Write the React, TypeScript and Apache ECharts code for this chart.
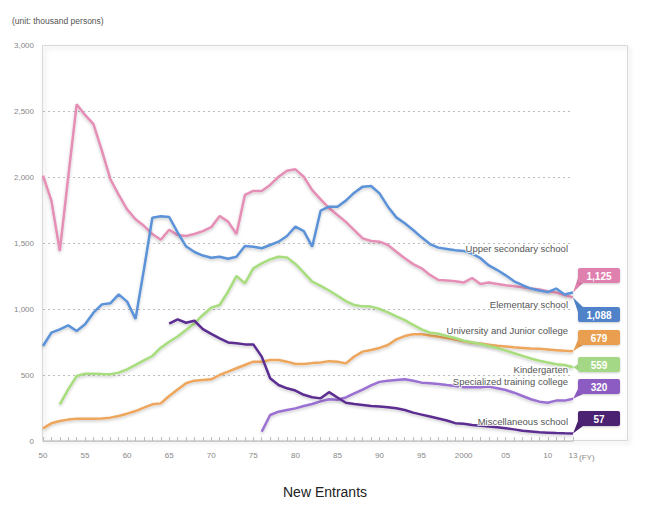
import { useEffect, useRef } from 'react';
import * as echarts from 'echarts';

const years = Array.from({ length: 64 }, (_, i) => String(1950 + i));

// thousand persons, FY1950 - FY2013
const elementary = [
  2010, 1820, 1440, 2000, 2550, 2470, 2400, 2200, 1985, 1865,
  1755, 1680, 1630, 1568, 1525, 1600, 1560, 1553, 1568, 1590,
  1620, 1705, 1662, 1568, 1864, 1894, 1894, 1940, 2002, 2048,
  2058, 2002, 1900, 1830, 1765, 1712, 1660, 1598, 1535, 1515,
  1510, 1485, 1434, 1384, 1340, 1308, 1258, 1220, 1215, 1210,
  1200, 1235, 1190, 1200, 1190, 1180, 1172, 1165, 1155, 1148,
  1135, 1125, 1105, 1088,
];
const upperSecondary = [
  720, 821, 846, 876, 833, 884, 972, 1035, 1043, 1111,
  1056, 925, 1300, 1692, 1702, 1697, 1580, 1475, 1432, 1405,
  1388, 1396, 1381, 1396, 1477, 1472, 1460, 1485, 1510, 1553,
  1624, 1590, 1472, 1745, 1775, 1775, 1821, 1881, 1927, 1932,
  1876, 1775, 1694, 1649, 1598, 1543, 1492, 1465, 1455, 1445,
  1440, 1420, 1385, 1330, 1295, 1255, 1210, 1180, 1155, 1140,
  1128, 1155, 1110, 1125,
];
const kindergarten = [
  null, null, 278, 391, 492, 510, 510, 507, 505, 518,
  543, 576, 611, 644, 707, 752, 792, 841, 891, 955,
  1010, 1030, 1131, 1250, 1194, 1308, 1346, 1376, 1396, 1391,
  1341, 1275, 1207, 1175, 1140, 1100, 1060, 1030, 1020, 1018,
  1000, 975, 945, 915, 880, 845, 820, 812, 795, 780,
  760, 748, 735, 720, 705, 685, 665, 645, 625, 608,
  595, 582, 576, 559,
];
const university = [
  96, 134, 152, 162, 168, 169, 169, 170, 177, 189,
  207, 227, 253, 278, 285, 341, 390, 437, 457, 462,
  467, 500, 525, 551, 576, 601, 601, 614, 614, 601,
  583, 583, 590, 595, 605, 600, 588, 640, 677, 690,
  705, 727, 770, 795, 808, 808, 800, 790, 780, 768,
  755, 745, 738, 730, 722, 716, 710, 705, 700, 698,
  693, 688, 683, 679,
];
const specialized = [
  null, null, null, null, null, null, null, null, null, null,
  null, null, null, null, null, null, null, null, null, null,
  null, null, null, null, null, null, 70, 197, 222, 235,
  247, 265, 280, 300, 316, 312, 330, 360, 390, 422,
  448, 457, 462, 467, 457, 442, 437, 432, 424, 417,
  407, 407, 407, 412, 400, 386, 366, 341, 316, 298,
  290, 306, 306, 320,
];
const miscellaneous = [
  null, null, null, null, null, null, null, null, null, null,
  null, null, null, null, null, 889, 922, 896, 911, 848,
  811, 778, 747, 740, 732, 732, 639, 475, 424, 399,
  382, 350, 332, 323, 370, 330, 290, 280, 273, 265,
  262, 256, 248, 235, 215, 200, 185, 170, 155, 135,
  130, 122, 116, 110, 104, 96, 88, 78, 72, 66,
  63, 60, 58, 57,
];

const seriesDefs = [
  { name: 'Elementary school', data: elementary, color: '#e68fb6', labelY: 304 },
  { name: 'University and Junior college', data: university, color: '#eda65c', labelY: 330 },
  { name: 'Specialized training college', data: specialized, color: '#9a6fd3', labelY: 381 },
  { name: 'Kindergarten', data: kindergarten, color: '#a7dd7d', labelY: 369 },
  { name: 'Upper secondary school', data: upperSecondary, color: '#5b92d8', labelY: 248 },
  { name: 'Miscellaneous school', data: miscellaneous, color: '#5c2d91', labelY: 421 },
];

// callout boxes in picture order (top to bottom) and the series end they point at
const callouts = [
  { text: '1,125', box: '#df80ae', boxY: 268, target: 'Upper secondary school' },
  { text: '1,088', box: '#4f82c8', boxY: 307, target: 'Elementary school' },
  { text: '679', box: '#e99f4f', boxY: 330, target: 'University and Junior college' },
  { text: '559', box: '#a5d886', boxY: 357, target: 'Kindergarten' },
  { text: '320', box: '#8d5cc2', boxY: 379, target: 'Specialized training college' },
  { text: '57', box: '#4b2171', boxY: 411, target: 'Miscellaneous school' },
];

const FONT = '"Liberation Sans", Arial, Helvetica, sans-serif';

export default function App() {
  const ref = useRef<HTMLDivElement>(null);

  useEffect(() => {
    if (!ref.current) return;
    const chart = echarts.init(ref.current, null, { renderer: 'svg' });
    chart.setOption({
      animation: false,
      textStyle: { fontFamily: FONT },
      grid: { left: 43, right: 77, top: 45, bottom: 79 },
      xAxis: {
        type: 'category',
        data: years,
        boundaryGap: false,
        axisLine: { lineStyle: { color: '#c8c8c8' } },
        axisTick: { show: true, inside: true, length: 4, interval: 0, lineStyle: { color: '#bbb' } },
        axisLabel: {
          interval: (_i: number, v: string) => +v % 5 === 0 || v === '2013',
          formatter: (v: string) => {
            const y = +v;
            if (y === 2000) return '2000';
            return String(y % 100).padStart(2, '0');
          },
          color: '#888',
          fontSize: 8,
          margin: 10,
        },
      },
      yAxis: {
        type: 'value',
        min: 0,
        max: 3000,
        interval: 500,
        axisLine: { show: false },
        axisTick: { show: false },
        axisLabel: {
          formatter: (v: number) => v.toLocaleString('en-US'),
          color: '#888',
          fontSize: 8,
          margin: 9,
        },
        splitLine: { lineStyle: { type: [2, 3], color: '#bdbdbd' } },
      },
      series: seriesDefs.map((s) => ({
        name: s.name,
        type: 'line',
        data: s.data,
        showSymbol: false,
        connectNulls: false,
        lineStyle: {
          color: s.color,
          width: 2.5,
          shadowColor: 'rgba(0,0,0,0.22)',
          shadowBlur: 3,
          shadowOffsetY: 1.5,
        },
        itemStyle: { color: s.color },
      })),
    });

    const last = years.length - 1;
    const graphic: any[] = [
      {
        type: 'rect',
        shape: { x: 42.5, y: 45.5, width: 585, height: 395 },
        style: {
          fill: 'none',
          stroke: '#d8d8d8',
          lineWidth: 1,
          shadowColor: 'rgba(0,0,0,0.18)',
          shadowBlur: 4,
          shadowOffsetX: 2,
          shadowOffsetY: 2,
        },
        z: 0,
        silent: true,
      },
      {
        type: 'text',
        x: 12,
        y: 21,
        style: { text: '(unit: thousand persons)', font: `8.5px ${FONT}`, fill: '#555', verticalAlign: 'middle' },
      },
      {
        type: 'text',
        x: 325,
        y: 492,
        style: { text: 'New Entrants', font: `14px ${FONT}`, fill: '#222', align: 'center', verticalAlign: 'middle' },
      },
      {
        type: 'text',
        x: 579,
        y: 457,
        style: { text: '(FY)', font: `8px ${FONT}`, fill: '#888', align: 'left', verticalAlign: 'middle' },
      },
    ];

    seriesDefs.forEach((s) => {
      graphic.push({
        type: 'text',
        x: 568,
        y: s.labelY,
        z: 100,
        style: {
          text: s.name,
          font: `9.5px ${FONT}`,
          fill: '#555',
          align: 'right',
          verticalAlign: 'middle',
          stroke: 'rgba(255,255,255,0.8)',
          lineWidth: 2,
        },
      });
    });

    const bx = 578;
    const bw = 42;
    const bh = 15;
    callouts.forEach((c) => {
      const idx = seriesDefs.findIndex((s) => s.name === c.target);
      const v = seriesDefs[idx].data[last] as number;
      const [tx, ty] = chart.convertToPixel({ xAxisIndex: 0, yAxisIndex: 0 }, [last, v]) as number[];
      let pts: number[][];
      if (ty > c.boxY + bh) pts = [[bx, c.boxY + bh - 5], [bx + 5, c.boxY + bh], [tx, ty]];
      else if (ty < c.boxY) pts = [[bx, c.boxY + 5], [bx + 5, c.boxY], [tx, ty]];
      else pts = [[bx, ty - 3], [bx, ty + 3], [tx, ty]];
      graphic.push({
        type: 'polygon',
        z: 101,
        shape: { points: pts },
        style: { fill: c.box },
      });
      graphic.push({
        type: 'rect',
        z: 101,
        shape: { x: bx, y: c.boxY, width: bw, height: bh, r: 2 },
        style: { fill: c.box, shadowColor: 'rgba(0,0,0,0.2)', shadowBlur: 2, shadowOffsetY: 1 },
      });
      graphic.push({
        type: 'text',
        z: 102,
        x: bx + bw / 2,
        y: c.boxY + bh / 2 + 0.5,
        style: {
          text: c.text,
          font: `bold 10px ${FONT}`,
          fill: '#fff',
          align: 'center',
          verticalAlign: 'middle',
        },
      });
    });

    chart.setOption({ graphic });

    return () => {
      chart.dispose();
    };
  }, []);

  return (
    <div
      ref={ref}
      style={{ position: 'fixed', left: 0, top: 0, width: 650, height: 520, background: '#fff' }}
    />
  );
}
